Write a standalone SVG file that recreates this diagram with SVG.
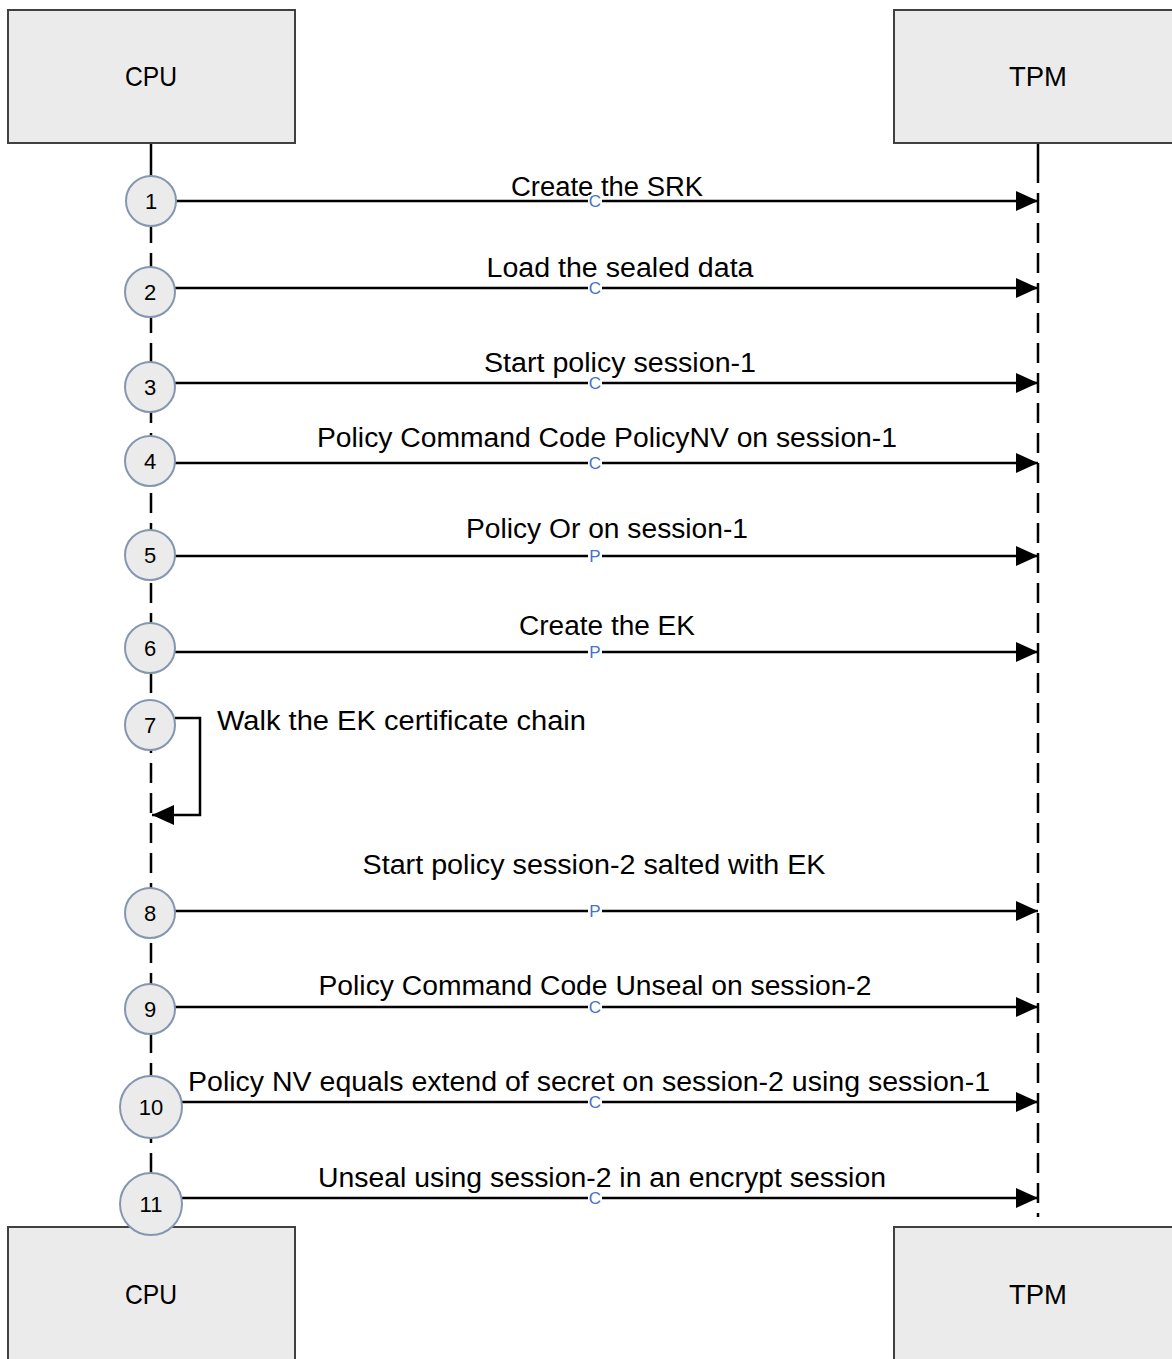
<svg xmlns="http://www.w3.org/2000/svg" width="1172" height="1359" viewBox="0 0 1172 1359">
  <style>
    .box { fill: #ebebeb; stroke: #404040; stroke-width: 2; }
    .boxlabel { font-family: "Liberation Sans", Arial, sans-serif; font-size: 28px; fill: #000; text-anchor: middle; }
    .life { stroke: #000; stroke-width: 2.5; fill: none; stroke-dasharray: 20 10; }
    .msg { stroke: #000; stroke-width: 2.5; fill: none; }
    .lbl { font-family: "Liberation Sans", Arial, sans-serif; font-size: 27px; fill: #000; }
    .mid { text-anchor: middle; }
    .step { fill: #ebebeb; stroke: #8496b0; stroke-width: 2; }
    .num { font-family: "Liberation Sans", Arial, sans-serif; font-size: 22px; fill: #000; text-anchor: middle; }
    .tag { font-family: "Liberation Sans", Arial, sans-serif; font-size: 17px; fill: #4472c4; text-anchor: middle; }
  </style>
  <defs>
    <marker id="head" markerWidth="22" markerHeight="20" refX="22" refY="10" orient="auto" markerUnits="userSpaceOnUse">
      <path d="M0,0 L22,10 L0,20 Z" fill="#000"/>
    </marker>
  </defs>

  <rect width="1172" height="1359" fill="#fff"/>

  <!-- lifelines -->
  <g id="lifelines">
    <line x1="151" y1="143" x2="151" y2="163" class="msg"/>
    <line x1="151" y1="163" x2="151" y2="1227" class="life"/>
    <line x1="1038" y1="143" x2="1038" y2="163" class="msg"/>
    <line x1="1038" y1="163" x2="1038" y2="1217" class="life"/>
  </g>

  <!-- participant boxes -->
  <g id="cpu-top">
    <rect x="8" y="10" width="287" height="133" class="box"/>
    <text x="151" y="86" class="boxlabel" textLength="52" lengthAdjust="spacingAndGlyphs">CPU</text>
  </g>
  <g id="tpm-top">
    <rect x="894" y="10" width="290" height="133" class="box"/>
    <text x="1038" y="86" class="boxlabel" textLength="58" lengthAdjust="spacingAndGlyphs">TPM</text>
  </g>
  <g id="cpu-bottom">
    <rect x="8" y="1227" width="287" height="140" class="box"/>
    <text x="151" y="1304" class="boxlabel" textLength="52" lengthAdjust="spacingAndGlyphs">CPU</text>
  </g>
  <g id="tpm-bottom">
    <rect x="894" y="1227" width="290" height="140" class="box"/>
    <text x="1038" y="1304" class="boxlabel" textLength="58" lengthAdjust="spacingAndGlyphs">TPM</text>
  </g>

  <!-- messages -->
  <g id="connectors">
    <line x1="176" y1="201" x2="1038" y2="201" class="msg" marker-end="url(#head)"/>
    <line x1="175" y1="288" x2="1038" y2="288" class="msg" marker-end="url(#head)"/>
    <line x1="175" y1="383" x2="1038" y2="383" class="msg" marker-end="url(#head)"/>
    <line x1="175" y1="463" x2="1038" y2="463" class="msg" marker-end="url(#head)"/>
    <line x1="175" y1="556" x2="1038" y2="556" class="msg" marker-end="url(#head)"/>
    <line x1="175" y1="652" x2="1038" y2="652" class="msg" marker-end="url(#head)"/>
    <path d="M175,718 H200 V815 H152" class="msg" marker-end="url(#head)"/>
    <line x1="175" y1="911" x2="1038" y2="911" class="msg" marker-end="url(#head)"/>
    <line x1="175" y1="1007" x2="1038" y2="1007" class="msg" marker-end="url(#head)"/>
    <line x1="182" y1="1102" x2="1038" y2="1102" class="msg" marker-end="url(#head)"/>
    <line x1="182" y1="1198" x2="1038" y2="1198" class="msg" marker-end="url(#head)"/>
  </g>

  <!-- message labels -->
  <g id="labels">
    <text x="607" y="196" class="lbl mid" textLength="192" lengthAdjust="spacingAndGlyphs">Create the SRK</text>
    <text x="620" y="277" class="lbl mid" textLength="267" lengthAdjust="spacingAndGlyphs">Load the sealed data</text>
    <text x="620" y="372" class="lbl mid" textLength="272" lengthAdjust="spacingAndGlyphs">Start policy session-1</text>
    <text x="607" y="447" class="lbl mid" textLength="580" lengthAdjust="spacingAndGlyphs">Policy Command Code PolicyNV on session-1</text>
    <text x="607" y="538" class="lbl mid" textLength="282" lengthAdjust="spacingAndGlyphs">Policy Or on session-1</text>
    <text x="607" y="635" class="lbl mid" textLength="176" lengthAdjust="spacingAndGlyphs">Create the EK</text>
    <text x="217" y="730" class="lbl" textLength="369" lengthAdjust="spacingAndGlyphs">Walk the EK certificate chain</text>
    <text x="594" y="874" class="lbl mid" textLength="463" lengthAdjust="spacingAndGlyphs">Start policy session-2 salted with EK</text>
    <text x="595" y="995" class="lbl mid" textLength="553" lengthAdjust="spacingAndGlyphs">Policy Command Code Unseal on session-2</text>
    <text x="589" y="1091" class="lbl mid" textLength="802" lengthAdjust="spacingAndGlyphs">Policy NV equals extend of secret on session-2 using session-1</text>
    <text x="602" y="1187" class="lbl mid" textLength="568" lengthAdjust="spacingAndGlyphs">Unseal using session-2 in an encrypt session</text>
  </g>

  <!-- session type tags on the message lines -->
  <g id="tags">
    <rect x="588" y="195" width="14" height="13" fill="#fff"/><text x="595" y="207" class="tag">C</text>
    <rect x="588" y="282" width="14" height="13" fill="#fff"/><text x="595" y="294" class="tag">C</text>
    <rect x="588" y="377" width="14" height="13" fill="#fff"/><text x="595" y="389" class="tag">C</text>
    <rect x="588" y="457" width="14" height="13" fill="#fff"/><text x="595" y="469" class="tag">C</text>
    <rect x="588" y="550" width="14" height="13" fill="#fff"/><text x="595" y="562" class="tag">P</text>
    <rect x="588" y="646" width="14" height="13" fill="#fff"/><text x="595" y="658" class="tag">P</text>
    <rect x="588" y="905" width="14" height="13" fill="#fff"/><text x="595" y="917" class="tag">P</text>
    <rect x="588" y="1001" width="14" height="13" fill="#fff"/><text x="595" y="1013" class="tag">C</text>
    <rect x="588" y="1096" width="14" height="13" fill="#fff"/><text x="595" y="1108" class="tag">C</text>
    <rect x="588" y="1192" width="14" height="13" fill="#fff"/><text x="595" y="1204" class="tag">C</text>
  </g>

  <!-- step markers -->
  <g id="step-1"><circle cx="151" cy="201" r="25" class="step"/><text x="151" y="209" class="num">1</text></g>
  <g id="step-2"><circle cx="150" cy="292" r="25" class="step"/><text x="150" y="300" class="num">2</text></g>
  <g id="step-3"><circle cx="150" cy="387" r="25" class="step"/><text x="150" y="395" class="num">3</text></g>
  <g id="step-4"><circle cx="150" cy="461" r="25" class="step"/><text x="150" y="469" class="num">4</text></g>
  <g id="step-5"><circle cx="150" cy="555" r="25" class="step"/><text x="150" y="563" class="num">5</text></g>
  <g id="step-6"><circle cx="150" cy="648" r="25" class="step"/><text x="150" y="656" class="num">6</text></g>
  <g id="step-7"><circle cx="150" cy="725" r="25" class="step"/><text x="150" y="733" class="num">7</text></g>
  <g id="step-8"><circle cx="150" cy="913" r="25" class="step"/><text x="150" y="921" class="num">8</text></g>
  <g id="step-9"><circle cx="150" cy="1009" r="25" class="step"/><text x="150" y="1017" class="num">9</text></g>
  <g id="step-10"><circle cx="151" cy="1107" r="31" class="step"/><text x="151" y="1115" class="num">10</text></g>
  <g id="step-11"><circle cx="151" cy="1204" r="31" class="step"/><text x="151" y="1212" class="num">11</text></g>
</svg>
